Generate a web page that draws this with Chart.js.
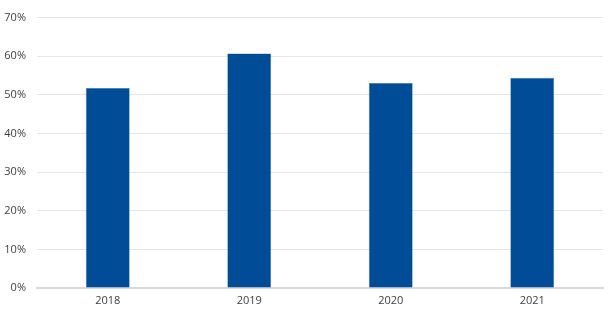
<!DOCTYPE html>
<html>
<head>
<meta charset="utf-8">
<script src="https://cdn.jsdelivr.net/npm/chart.js@4.4.0/dist/chart.umd.min.js"></script>
<style>
  html, body { margin: 0; padding: 0; background: #fff; }
  #wrap { width: 610px; height: 318px; }
</style>
</head>
<body>
<div id="wrap"><canvas id="chart1"></canvas></div>
<script>
const years = ['2018', '2019', '2020', '2021'];
const shares = [51.8, 60.7, 53.1, 54.4];
const yTicks = [0, 10, 20, 30, 40, 50, 60, 70];

function load(){
    Chart.defaults.font.family = '"Open Sans", sans-serif';
    Chart.defaults.font.size = 11;
    Chart.defaults.color = '#404040';

    const ctx1 = document.getElementById('chart1');

    new Chart(ctx1, {
        type: 'bar',
        data: {
            labels: years,
            datasets: [{
                data: shares,
                backgroundColor: '#004c97',
                borderColor: '#3f78b4',
                borderWidth: 0.6,
                barPercentage: 1,
                categoryPercentage: 0.31
            }]
        },
        options: {
            responsive: true,
            maintainAspectRatio: false,
            animation: false,
            layout: { padding: { top: 12, right: 7, left: 0, bottom: 0 } },
            plugins: { legend: { display: false }, tooltip: { enabled: false } },
            scales: {
                x: {
                    grid: { display: false, drawTicks: false },
                    border: { color: '#d9d9d9', width: 2 },
                    ticks: { padding: 6 },
                    afterFit: (s) => { s.height = 30; }
                },
                y: {
                    min: 0,
                    max: 70,
                    afterBuildTicks: (s) => { s.ticks = yTicks.map(v => ({ value: v })); },
                    grid: { color: '#e6e6e6', drawTicks: false },
                    border: { display: false },
                    ticks: { padding: 11, callback: (v) => v + '%' },
                    afterFit: (s) => { s.width = 37; }
                }
            }
        }
    });
}

window.onload = (event) => {
    load();
};
</script>
</body>
</html>
